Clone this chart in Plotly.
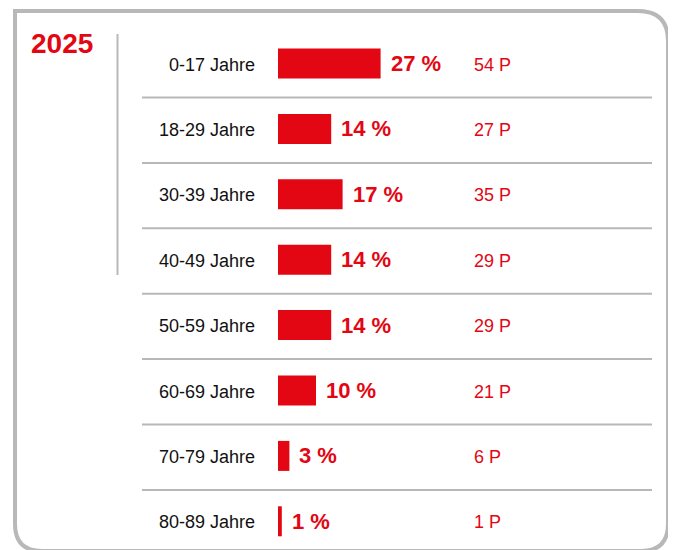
import plotly.graph_objects as go

# ---- data ----
age_groups = ["0-17 Jahre", "18-29 Jahre", "30-39 Jahre", "40-49 Jahre",
              "50-59 Jahre", "60-69 Jahre", "70-79 Jahre", "80-89 Jahre"]
percent = [27, 14, 17, 14, 14, 10, 3, 1]
persons = [54, 27, 35, 29, 29, 21, 6, 1]
year_label = "2025"

RED = "#e30613"
GRAY = "#b8b8b8"
TEXT = "#111111"
OFF = 8  # default page body margin
W, H = 676 - OFF, 550 - OFF

# pixel helpers (layout only, page pixel coordinates)
px_per_pct = 3.8
bar_x0 = 278 - OFF
row_c0 = 63.5 - OFF
row_step = 65.4

def px(x):
    return (x - OFF) / W

def py(y):
    return 1 - (y - OFF) / H

xr = [-bar_x0 / px_per_pct, (W - bar_x0) / px_per_pct]
yr = [(H - row_c0) / row_step, -row_c0 / row_step]

n = len(age_groups)
ys = list(range(n))

fig = go.Figure()
fig.add_trace(go.Bar(
    x=percent, y=ys, orientation="h",
    marker=dict(color=RED, line=dict(width=0)),
    width=30 / row_step,
    hoverinfo="skip",
))

annotations = []
for i in range(n):
    annotations.append(dict(
        x=px(257), xref="paper", y=i, yref="y", yshift=-1, text=age_groups[i],
        showarrow=False, xanchor="right", yanchor="middle",
        font=dict(family="Liberation Sans, Arial", size=18, color=TEXT)))
    annotations.append(dict(
        x=percent[i], xref="x", y=i, yref="y", text=f"{percent[i]} %",
        showarrow=False, xanchor="left", yanchor="middle", xshift=8,
        font=dict(family="Liberation Sans, Arial", size=22, color=RED, weight="bold")))
    annotations.append(dict(
        x=px(472), xref="paper", y=i, yref="y", yshift=-1, text=f"{persons[i]} P",
        showarrow=False, xanchor="left", yanchor="middle",
        font=dict(family="Liberation Sans, Arial", size=18, color=RED)))

annotations.append(dict(
    x=px(29), xref="paper", y=py(43), yref="paper", text=year_label,
    showarrow=False, xanchor="left", yanchor="middle",
    font=dict(family="Liberation Sans, Arial", size=28, color=RED, weight="bold")))

shapes = []

def P(x, y):
    return f"{px(x):.5f},{py(y):.5f}"

path = ("M " + P(15, 11) + " L " + P(638, 11) + " Q " + P(668, 11) + " " + P(668, 41) +
        " L " + P(668, 524) + " Q " + P(668, 551) + " " + P(641, 551) +
        " L " + P(42, 551) + " Q " + P(15, 551) + " " + P(15, 524) + " Z")
shapes.append(dict(type="path", path=path, xref="paper", yref="paper",
                   line=dict(color=GRAY, width=4), fillcolor="rgba(0,0,0,0)"))
shapes.append(dict(type="line", xref="paper", yref="paper",
                   x0=px(117.5), x1=px(117.5), y0=py(34), y1=py(275),
                   line=dict(color=GRAY, width=2)))
for i in range(n - 1):
    shapes.append(dict(type="line", xref="paper", yref="y",
                       x0=px(142), x1=px(652), y0=i + 0.52, y1=i + 0.52,
                       line=dict(color=GRAY, width=2)))

fig.update_layout(
    width=W, height=H,
    margin=dict(l=0, r=0, t=0, b=0),
    paper_bgcolor="white", plot_bgcolor="white",
    showlegend=False,
    xaxis=dict(range=xr, visible=False, fixedrange=True),
    yaxis=dict(range=yr, visible=False, fixedrange=True),
    annotations=annotations,
    shapes=shapes,
)

fig.write_html("out.html")
